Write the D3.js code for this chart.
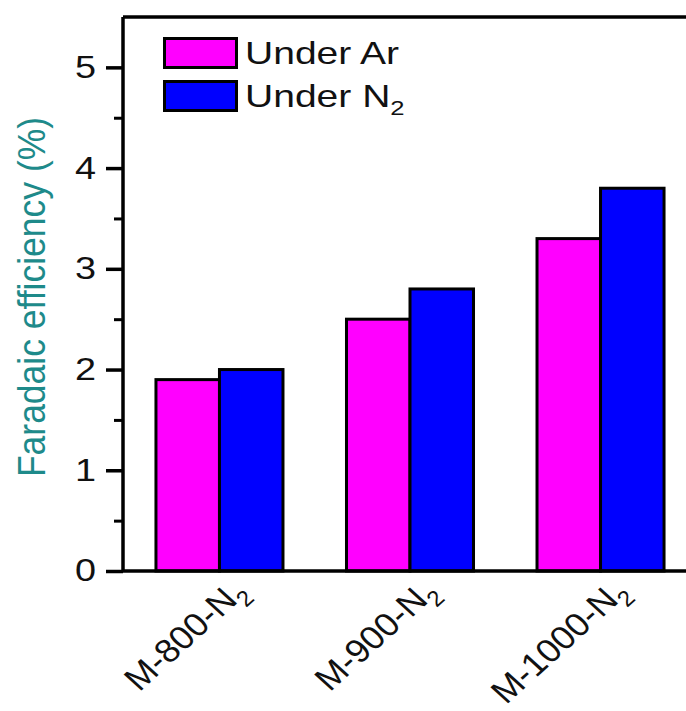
<!DOCTYPE html>
<html>
<head>
<meta charset="utf-8">
<script src="https://cdn.jsdelivr.net/npm/d3@7"></script>
<style>
  html, body { margin: 0; padding: 0; background: #fff; }
  svg { display: block; }
  text { font-family: "Liberation Sans", Arial, sans-serif; }
</style>
</head>
<body>
<svg id="chart" width="686" height="711"></svg>
<script>
const categories = ["M-800", "M-900", "M-1000"];
const seriesNames = ["Under Ar", "Under N2"];
const underAr = [1.9, 2.5, 3.3];
const underN2 = [2.0, 2.8, 3.8];
const yTicks = [0, 1, 2, 3, 4, 5];
const yMinorTicks = [0.5, 1.5, 2.5, 3.5, 4.5];
const colors = ["#FF00FF", "#0000FF"];

const SX = 1.22; // horizontal glyph stretch seen in the reference
const svg = d3.select("#chart");
const mLeft = 123, mRight = 697, mTop = 17, mBottom = 571;

const x = d3.scaleBand().domain(categories).range([mLeft, mRight]).paddingInner(1/3).paddingOuter(0.173);
const xs = d3.scaleBand().domain([0, 1]).range([0, x.bandwidth()]);
const y = d3.scaleLinear().domain([0, 5.5]).range([mBottom, mTop]);

function stretch(sel, sx) {
  sel.each(function () {
    const t = d3.select(this);
    const px = +t.attr("x") || 0, py = +t.attr("y") || 0;
    t.attr("transform", `translate(${px},${py}) scale(${sx},1) translate(${-px},${-py})`);
  });
}

// bars
const series = [underAr, underN2];
series.forEach((vals, si) => {
  svg.append("g").selectAll("rect").data(categories).join("rect")
    .attr("x", (d) => x(d) + xs(si))
    .attr("y", (d, i) => y(vals[i]))
    .attr("width", xs.bandwidth())
    .attr("height", (d, i) => y(0) - y(vals[i]))
    .attr("fill", colors[si])
    .attr("stroke", "#000")
    .attr("stroke-width", 3);
});

// frame top
svg.append("line").attr("x1", mLeft).attr("x2", 700).attr("y1", mTop).attr("y2", mTop)
  .attr("stroke", "#000").attr("stroke-width", 3.5);

// y axis
const yAxis = d3.axisLeft(y).tickValues(yTicks).tickSize(17).tickPadding(10).tickFormat(d3.format("d"));
const gy = svg.append("g").attr("transform", `translate(${mLeft},0)`).call(yAxis);
gy.select(".domain").attr("stroke-width", 3.5).attr("d", `M0,${mTop}V${mBottom}`);
gy.selectAll(".tick line").attr("stroke-width", 3.5);
gy.selectAll(".tick text").attr("font-size", 31).attr("fill", "#111")
  .attr("font-family", "Liberation Sans, Arial, sans-serif").call(stretch, SX);
const yMinor = d3.axisLeft(y).tickValues(yMinorTicks).tickSize(9).tickFormat("");
const gym = svg.append("g").attr("transform", `translate(${mLeft},0)`).call(yMinor);
gym.select(".domain").remove();
gym.selectAll(".tick line").attr("stroke-width", 3);

// x axis line
svg.append("line").attr("x1", mLeft).attr("x2", 700).attr("y1", mBottom).attr("y2", mBottom)
  .attr("stroke", "#000").attr("stroke-width", 3.5);

// x labels
const xl = svg.append("g").selectAll("text").data(categories).join("text")
  .attr("transform", (d) => `translate(${x(d) + x.bandwidth()/2 + 29},${mBottom + 22}) scale(1.1,1) rotate(-45)`)
  .attr("text-anchor", "end")
  .attr("font-size", 33)
  .attr("fill", "#111");
xl.append("tspan").text((d) => d + "-N");
xl.append("tspan").attr("font-size", 22).attr("dy", 9).text("2");

// y label
svg.append("text")
  .attr("transform", `translate(45,297) scale(1.1,1) rotate(-90)`)
  .attr("text-anchor", "middle")
  .attr("font-size", 35.5)
  .attr("fill", "#1e8a8a")
  .text("Faradaic efficiency (%)");

// legend
const legend = svg.append("g");
seriesNames.forEach((name, i) => {
  const ly = 38.5 + i * 43;
  legend.append("rect").attr("x", 164.5).attr("y", ly).attr("width", 72).attr("height", 29)
    .attr("fill", colors[i]).attr("stroke", "#000").attr("stroke-width", 3);
  const t = legend.append("text").attr("x", 245).attr("y", ly + 25.5).attr("font-size", 32).attr("fill", "#111");
  if (name.endsWith("N2")) {
    t.append("tspan").text("Under N");
    t.append("tspan").attr("font-size", 21).attr("dy", 8).text("2");
  } else {
    t.text(name);
  }
  t.call(stretch, SX);
});
</script>
</body>
</html>
